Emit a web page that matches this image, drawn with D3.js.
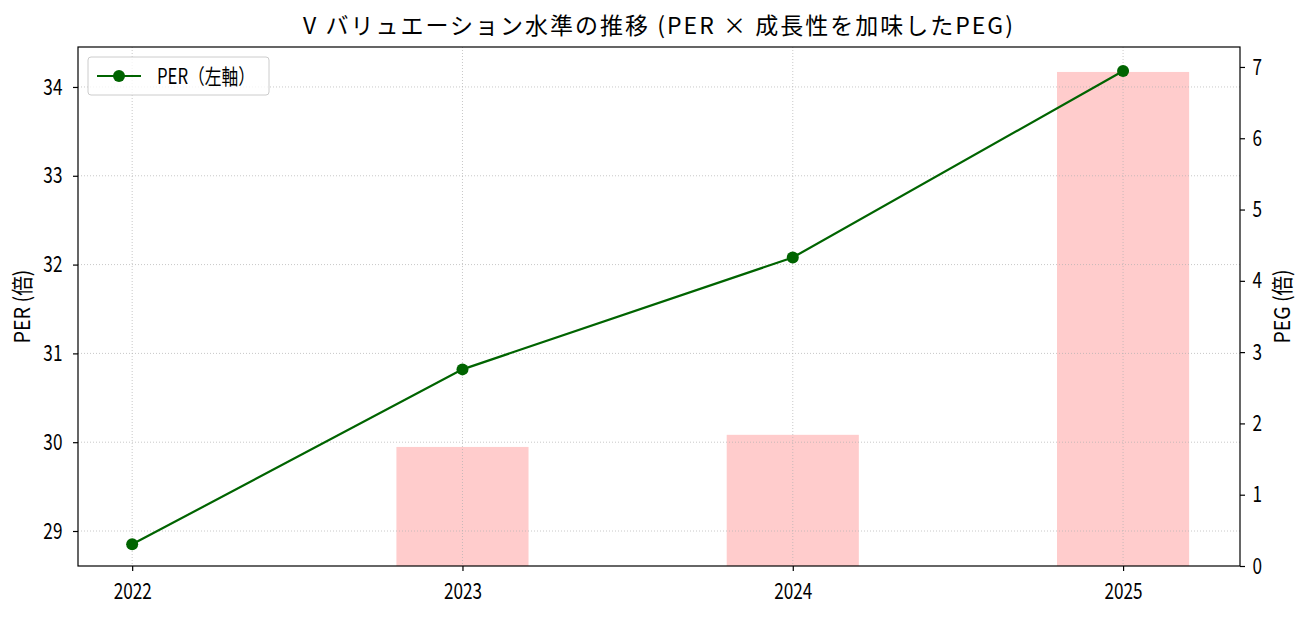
<!DOCTYPE html>
<html>
<head>
<meta charset="utf-8">
<script src="https://cdn.jsdelivr.net/npm/d3@7"></script>
<style>
  body { margin: 0; background: #fff; }
  text { font-family: "Noto Sans CJK JP", "DejaVu Sans", sans-serif; fill: #000; }
</style>
</head>
<body>
<div id="chart"></div>
<script>
var years = [2022, 2023, 2024, 2025];
var per = [28.85, 30.82, 32.08, 34.18];
var peg = [null, 1.67, 1.84, 6.93];
var perTicks = [29, 30, 31, 32, 33, 34];
var pegTicks = [0, 1, 2, 3, 4, 5, 6, 7];

var full_width = 1309, full_height = 617;
var margin = { top: 47, right: 69, bottom: 51, left: 78 };
var width = full_width - margin.left - margin.right;
var height = full_height - margin.top - margin.bottom;

var x = d3.scaleLinear().domain([2021.836, 2025.354]).range([0, width]);
var yL = d3.scaleLinear().domain([28.606, 34.45]).range([height, 0]);
var yR = d3.scaleLinear().domain([0, 7.28]).range([height, 0]);

var svg = d3.select("#chart").append("svg")
    .attr("width", full_width)
    .attr("height", full_height);

var g = svg.append("g")
    .attr("transform", "translate(" + margin.left + "," + margin.top + ")");

// PEG bars (right axis)
g.selectAll("rect.bar")
    .data(years.map(function(d, i) { return { year: d, v: peg[i] }; })
        .filter(function(d) { return d.v != null; }))
    .enter().append("rect")
    .attr("class", "bar")
    .attr("x", function(d) { return x(d.year - 0.2); })
    .attr("width", function(d) { return x(d.year + 0.2) - x(d.year - 0.2); })
    .attr("y", function(d) { return yR(d.v); })
    .attr("height", function(d) { return height - yR(d.v); })
    .attr("fill", "#ffcccc");

// grid
g.selectAll("line.vgrid")
    .data(years).enter().append("line")
    .attr("x1", function(d) { return x(d); })
    .attr("x2", function(d) { return x(d); })
    .attr("y1", 0).attr("y2", height)
    .attr("stroke", "#b0b0b0").attr("stroke-opacity", 0.7)
    .attr("stroke-width", 1).attr("stroke-dasharray", "1,2");

g.selectAll("line.hgrid")
    .data(perTicks).enter().append("line")
    .attr("x1", 0).attr("x2", width)
    .attr("y1", function(d) { return yL(d); })
    .attr("y2", function(d) { return yL(d); })
    .attr("stroke", "#b0b0b0").attr("stroke-opacity", 0.7)
    .attr("stroke-width", 1).attr("stroke-dasharray", "1,2");

// PER line
var line = d3.line()
    .x(function(d, i) { return x(years[i]); })
    .y(function(d) { return yL(d); });

g.append("path")
    .datum(per)
    .attr("d", line)
    .attr("fill", "none")
    .attr("stroke", "#006400")
    .attr("stroke-width", 2.2);

g.selectAll("circle.pt")
    .data(per).enter().append("circle")
    .attr("cx", function(d, i) { return x(years[i]); })
    .attr("cy", function(d) { return yL(d); })
    .attr("r", 6)
    .attr("fill", "#006400");

// axes (labels squeezed horizontally to mimic the condensed font)
var squeeze = 0.78;

var xAxis = g.append("g")
    .attr("transform", "translate(0," + height + ")")
    .call(d3.axisBottom(x).tickValues(years).tickFormat(d3.format("d")).tickSize(5).tickPadding(12));

var yAxisL = g.append("g")
    .call(d3.axisLeft(yL).tickValues(perTicks).tickFormat(d3.format("d")).tickSize(5).tickPadding(15));

var yAxisR = g.append("g")
    .attr("transform", "translate(" + width + ",0)")
    .call(d3.axisRight(yR).tickValues(pegTicks).tickFormat(d3.format("d")).tickSize(5).tickPadding(11));

[xAxis, yAxisL, yAxisR].forEach(function(a) {
    a.select(".domain").remove();
    a.selectAll(".tick line").attr("stroke", "#000").attr("stroke-width", 1.2);
    a.selectAll(".tick text")
        .attr("font-family", null)
        .attr("font-size", null)
        .style("font-size", "22px")
        .attr("transform", "scale(" + squeeze + ",1)");
});

// frame
g.append("rect")
    .attr("width", width).attr("height", height)
    .attr("fill", "none").attr("stroke", "#000").attr("stroke-width", 1.2);

// title
svg.append("text")
    .attr("x", 303)
    .attr("y", 34)
    .attr("textLength", 710)
    .attr("lengthAdjust", "spacing")
    .style("font-size", "23px")
    .text("V バリュエーション水準の推移 (PER × 成長性を加味したPEG)");

// axis labels
svg.append("text")
    .attr("transform", "translate(30," + (margin.top + height / 2) + ") rotate(-90)")
    .attr("x", -37)
    .attr("textLength", 74)
    .attr("lengthAdjust", "spacingAndGlyphs")
    .style("font-size", "22px")
    .text("PER (倍)");

svg.append("text")
    .attr("transform", "translate(1290," + (margin.top + height / 2) + ") rotate(-90)")
    .attr("x", -37)
    .attr("textLength", 74)
    .attr("lengthAdjust", "spacingAndGlyphs")
    .style("font-size", "22px")
    .text("PEG (倍)");

// legend
var legend = svg.append("g").attr("transform", "translate(88,57)");
legend.append("rect")
    .attr("width", 181).attr("height", 38).attr("rx", 3)
    .attr("fill", "#fff").attr("fill-opacity", 0.8)
    .attr("stroke", "#cccccc");
legend.append("line")
    .attr("x1", 9).attr("x2", 53).attr("y1", 19).attr("y2", 19)
    .attr("stroke", "#006400").attr("stroke-width", 2.2);
legend.append("circle")
    .attr("cx", 31).attr("cy", 19).attr("r", 6).attr("fill", "#006400");
legend.append("text")
    .attr("x", 69).attr("y", 27)
    .attr("textLength", 98)
    .attr("lengthAdjust", "spacingAndGlyphs")
    .style("font-size", "21px")
    .text("PER（左軸）");
</script>
</body>
</html>
